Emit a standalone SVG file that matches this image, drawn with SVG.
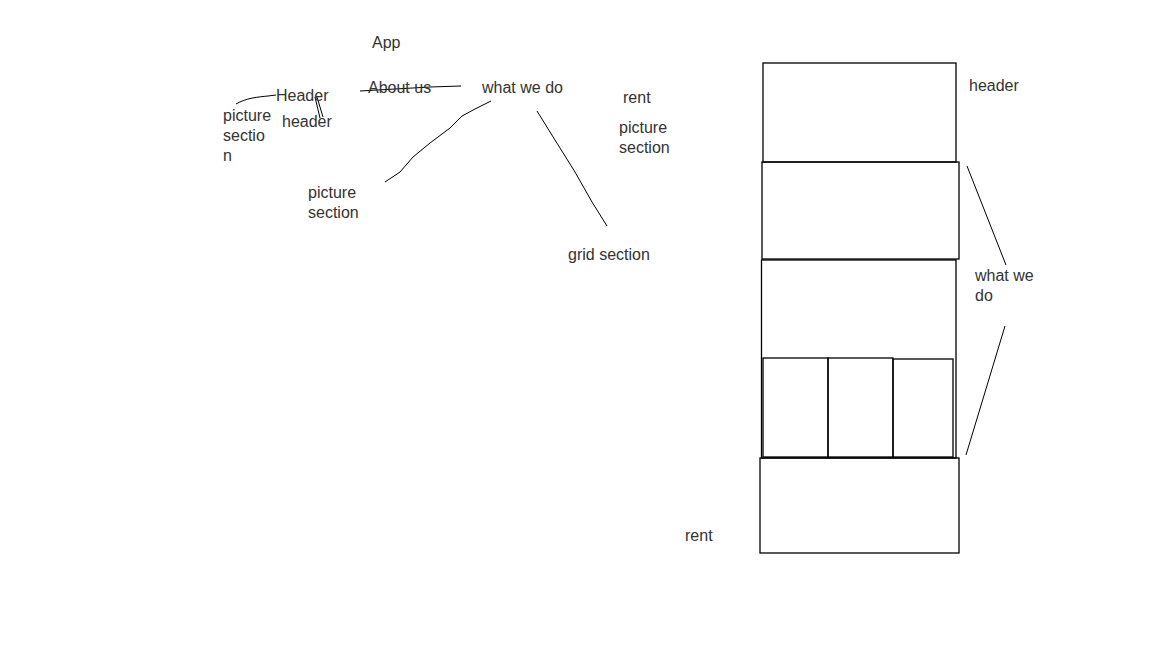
<svg xmlns="http://www.w3.org/2000/svg" width="1171" height="648" viewBox="0 0 1171 648">
<style>
text{font-family:"Liberation Sans",Arial,sans-serif;font-size:16px;fill:#333}
.box{fill:none;stroke:#000;stroke-width:1.3}
.ln{fill:none;stroke:#000;stroke-width:1}
</style>
<rect width="1171" height="648" fill="#fff"/>
<g id="connectors">
<path class="ln" d="M236,104 C246,98 258,97 268,96 L276,95"/>
<path class="ln" d="M315,97 L320,118 M317,97 L323,117"/>
<path class="ln" d="M360,91 L430,87 L461,86"/>
<path class="ln" d="M491,101 L475,109 L462,116 L450,128 L430,143 L413,157 L400,172 L385,182"/>
<path class="ln" d="M537,111 L555,140 L575,172 L592,202 L607,226"/>
<path class="ln" d="M967,166 L1006,265"/>
<path class="ln" d="M1005,326 L966,455"/>
</g>
<g id="mindmap">
<g id="n-app"><text x="372" y="48">App</text></g>
<g id="n-about"><text x="368" y="93">About us</text></g>
<g id="n-whatwedo"><text x="482" y="93">what we do</text></g>
<g id="n-header"><text x="276" y="101">Header</text></g>
<g id="n-header2"><text x="282" y="127">header</text></g>
<g id="n-picsec1"><text x="223" y="121">picture</text><text x="223" y="141">sectio</text><text x="223" y="161">n</text></g>
<g id="n-picsec2"><text x="308" y="198">picture</text><text x="308" y="218">section</text></g>
<g id="n-grid"><text x="568" y="260">grid section</text></g>
<g id="n-rent"><text x="623" y="103">rent</text></g>
<g id="n-picsec3"><text x="619" y="133">picture</text><text x="619" y="153">section</text></g>
</g>
<g id="layout">
<g id="r-header"><rect class="box" x="763" y="63" width="193" height="99"/></g>
<g id="r-pic"><rect class="box" x="762" y="162" width="197" height="97"/></g>
<g id="r-what"><rect class="box" x="761.5" y="260" width="194.5" height="198"/></g>
<g id="r-grid">
<rect class="box" x="763" y="358" width="65" height="99"/>
<rect class="box" x="828" y="358" width="65" height="99"/>
<rect class="box" x="893" y="359" width="60" height="98"/>
</g>
<g id="r-rent"><rect class="box" x="760" y="458" width="199" height="95"/></g>
<g id="l-header"><text x="969" y="91">header</text></g>
<g id="l-what"><text x="975" y="281">what we</text><text x="975" y="301">do</text></g>
<g id="l-rent"><text x="685" y="541">rent</text></g>
</g>
</svg>
